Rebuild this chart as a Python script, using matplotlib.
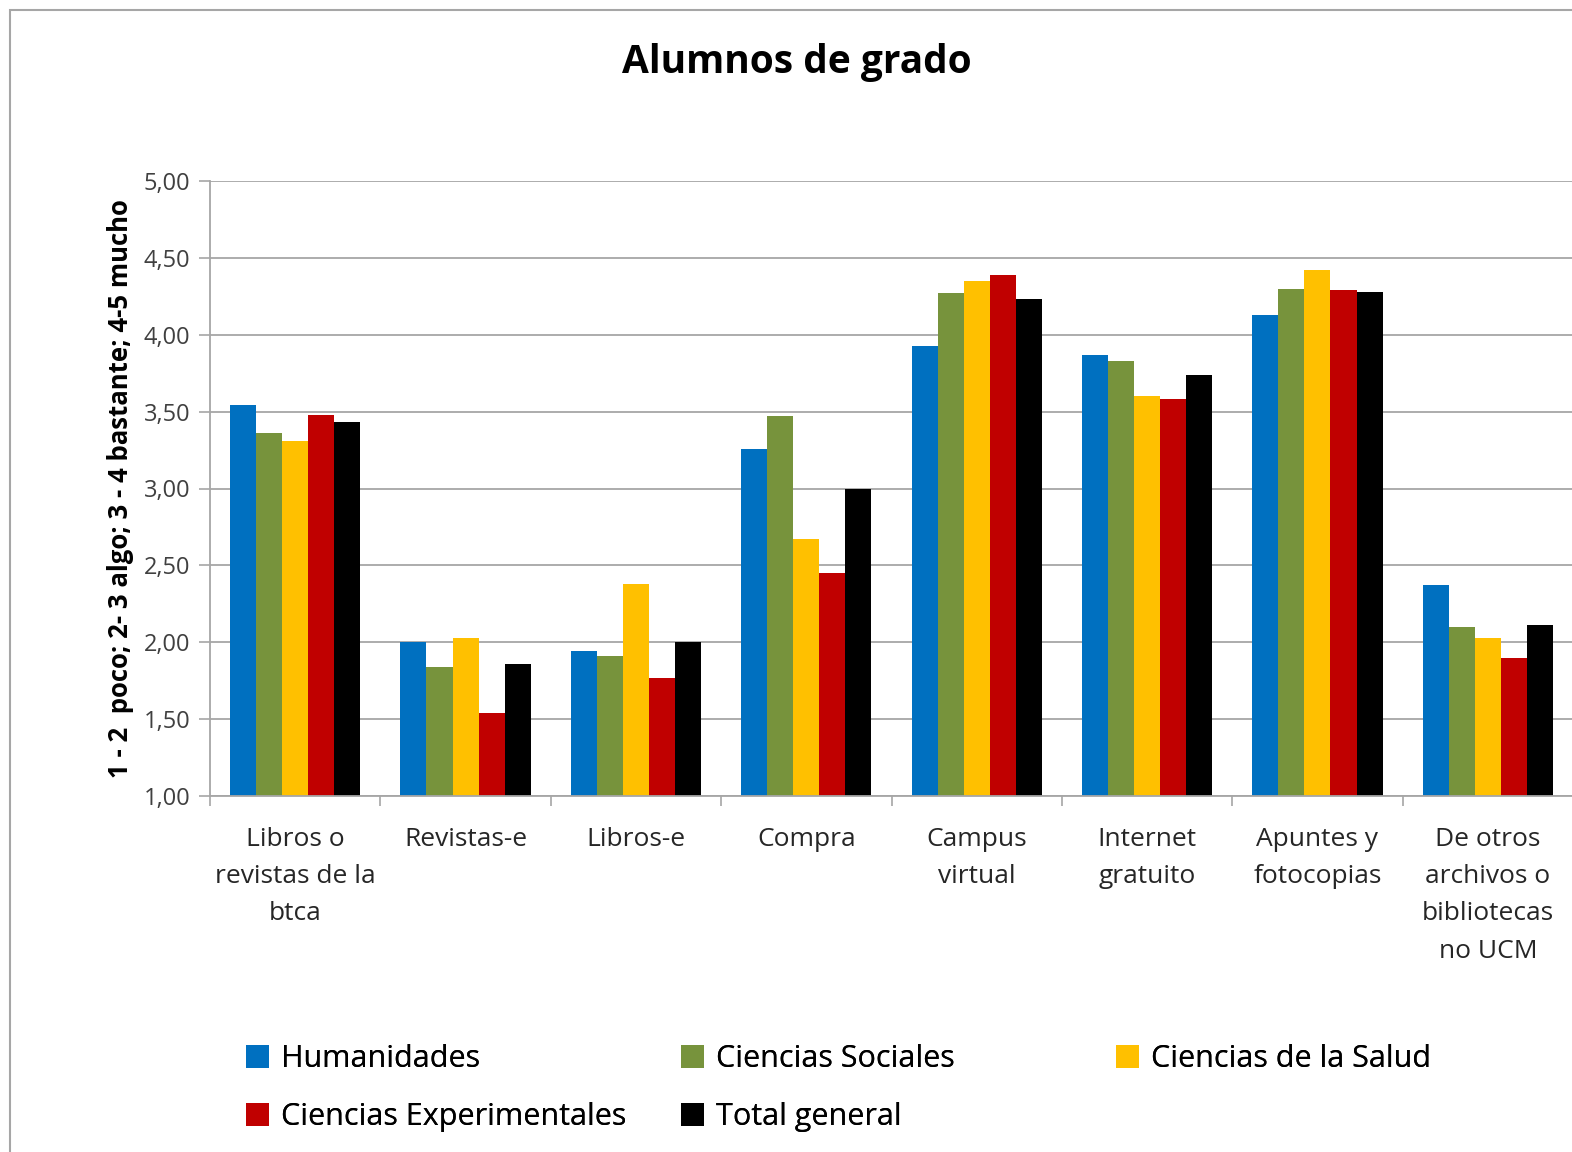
import matplotlib
matplotlib.use("Agg")
import matplotlib.pyplot as plt
import numpy as np
from matplotlib.patches import Rectangle

categories = ["Libros o\nrevistas de la\nbtca", "Revistas-e", "Libros-e", "Compra",
              "Campus\nvirtual", "Internet\ngratuito", "Apuntes y\nfotocopias",
              "De otros\narchivos o\nbibliotecas\nno UCM"]
series_names = ["Humanidades", "Ciencias Sociales", "Ciencias de la Salud",
                "Ciencias Experimentales", "Total general"]
humanidades = [3.54, 2.00, 1.94, 3.26, 3.93, 3.87, 4.13, 2.37]
sociales = [3.36, 1.84, 1.91, 3.47, 4.27, 3.83, 4.30, 2.10]
salud = [3.31, 2.03, 2.38, 2.67, 4.35, 3.60, 4.42, 2.03]
experimentales = [3.48, 1.54, 1.77, 2.45, 4.39, 3.58, 4.29, 1.90]
total = [3.43, 1.86, 2.00, 3.00, 4.23, 3.74, 4.28, 2.11]
colors = ["#0070C0", "#77933C", "#FFC000", "#C00000", "#000000"]
yticks = [1.0, 1.5, 2.0, 2.5, 3.0, 3.5, 4.0, 4.5, 5.0]
ytick_labels = ["1,00", "1,50", "2,00", "2,50", "3,00", "3,50", "4,00", "4,50", "5,00"]

font = "Open Sans"
W, H = 1572, 1152
fig = plt.figure(figsize=(W / 100, H / 100), dpi=100)
fig.patches.append(Rectangle((10 / W, -0.01), 1.02, 1 - 10 / H + 0.01, transform=fig.transFigure,
                             fill=False, edgecolor="#a6a6a6", linewidth=1.5))

ax = fig.add_axes([210 / W, 1 - 796 / H, 1363 / W, (796 - 181) / H])
data = [humanidades, sociales, salud, experimentales, total]
x = np.arange(len(categories))
bw = 0.153
for i, (vals, c, name) in enumerate(zip(data, colors, series_names)):
    ax.bar(x + (i - 2) * bw, np.array(vals) - 1.0, bw, bottom=1.0, color=c, label=name)

ax.set_xlim(-0.5, len(categories) - 0.5)
ax.set_ylim(1.0, 5.0)
ax.set_yticks(yticks)
ax.set_yticklabels(ytick_labels, fontsize=17, family=font, color="#404040")
ax.yaxis.grid(True, color="#a6a6a6", linewidth=1.3)
ax.set_axisbelow(True)
ax.set_xticks(x)
ax.set_xticklabels(categories, fontsize=19, family=font, color="#262626", linespacing=1.65)
ax.set_xticks(np.arange(-0.5, len(categories), 1.0), minor=True)
ax.tick_params(axis="x", which="major", length=0, pad=22)
ax.tick_params(axis="x", which="minor", length=7, color="#a6a6a6", width=1.2)
ax.tick_params(axis="y", length=8, color="#a6a6a6", width=1.2, pad=6)
for s in ["top", "right"]:
    ax.spines[s].set_visible(False)
for s in ["left", "bottom"]:
    ax.spines[s].set_color("#a6a6a6")
    ax.spines[s].set_linewidth(1.3)

ax.set_ylabel("1 - 2  poco; 2- 3 algo; 3 - 4 bastante; 4-5 mucho", fontsize=18.5,
              fontweight="bold", family=font, labelpad=7)

fig.text(797 / W, 1 - 62 / H, "Alumnos de grado", ha="center", va="center",
         fontsize=28, fontweight="bold", family=font)

handles, labels = ax.get_legend_handles_labels()
columns = [[0, 3], [1, 4], [2]]
col_x = [246, 681, 1116]
for idxs, cx in zip(columns, col_x):
    lg = fig.legend([handles[i] for i in idxs], [labels[i] for i in idxs],
                    loc="upper left", bbox_to_anchor=(cx / W, 1 - 1044 / H),
                    ncol=1, frameon=False, prop={"family": font, "size": 22},
                    handlelength=0.75, handleheight=0.75, handletextpad=0.4,
                    labelspacing=0.92, borderpad=0, borderaxespad=0)
    fig.add_artist(lg)

fig.savefig("out.png", dpi=100)
